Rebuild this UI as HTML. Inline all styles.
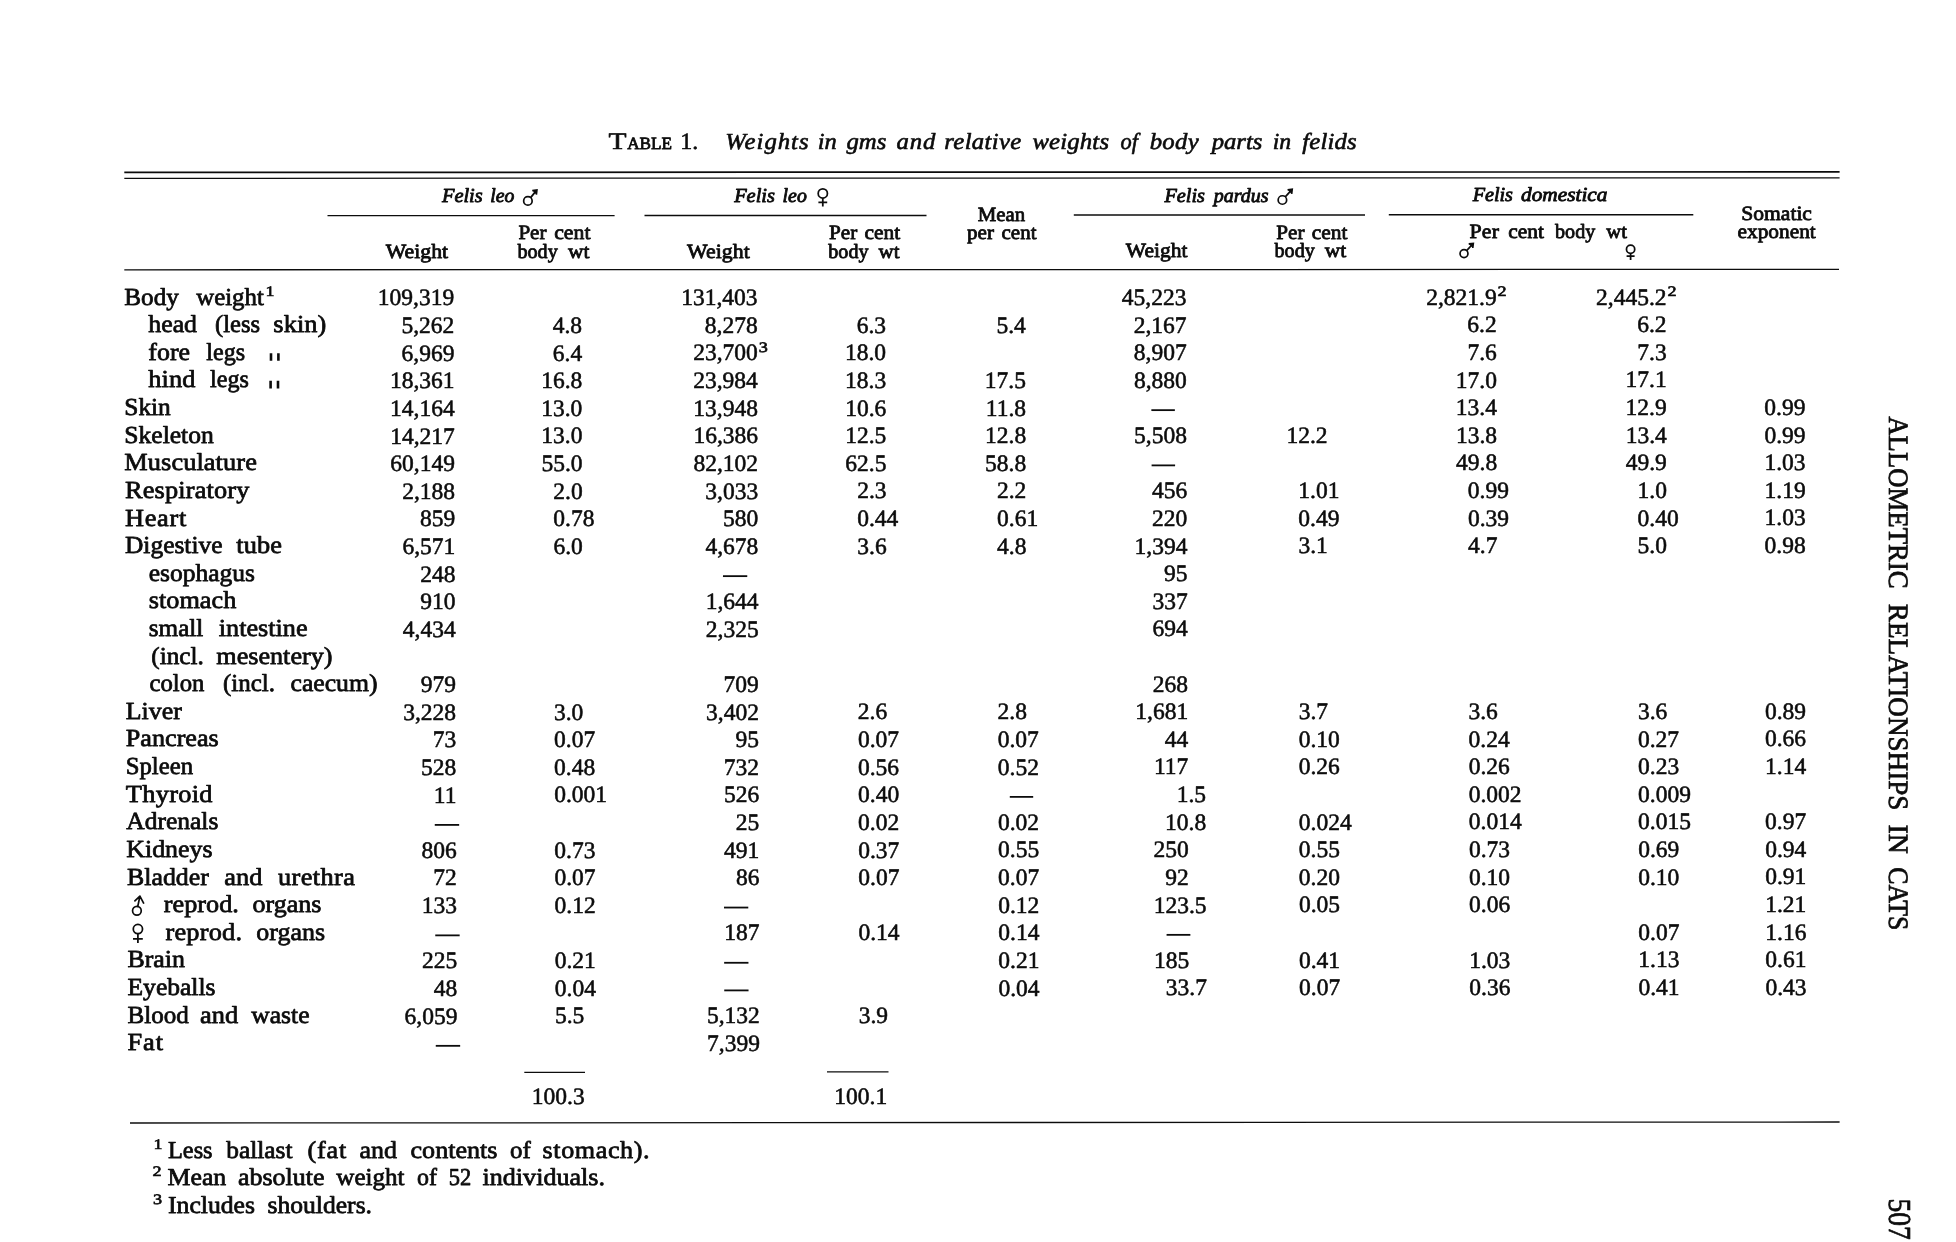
<!DOCTYPE html>
<html lang="en">
<head>
<meta charset="utf-8">
<title>Table 1. Weights in gms and relative weights of body parts in felids</title>
<style>
html, body { margin: 0; padding: 0; background: #ffffff; }
body { width: 1956px; height: 1242px; overflow: hidden; font-family: "Liberation Serif", serif; }
svg { display: block; position: absolute; left: 0; top: 0; filter: grayscale(1); }
svg text { font-family: "Liberation Serif", serif; fill: #0c0c0c; stroke: #0c0c0c; stroke-width: 0.55px; stroke-linejoin: round; white-space: pre; }
svg text.it { stroke-width: 0.85px; }
svg text.lb { stroke-width: 0.75px; }
svg text.rt { stroke-width: 0.75px; }
svg text.ti { stroke-width: 0.62px; }
svg text.hd { stroke-width: 0.8px; }
svg text.sup { stroke-width: 0.6px; }
</style>
</head>
<body>
<svg width="1956" height="1242" viewBox="0 0 1956 1242" text-rendering="geometricPrecision">
<text transform="translate(608.40,149.00) scale(1.2557,1)" font-size="23.5">T</text>
<text transform="translate(627.20,149.00) scale(0.9980,1)" font-size="17.2" class="hd">ABLE</text>
<text transform="translate(680.20,149.00) scale(1.0213,1)" font-size="23.5">1.</text>
<text transform="translate(725.20,148.80) scale(1.0750,1)" font-size="23.0" font-style="italic" class="ti" letter-spacing="0.932">Weights</text>
<text transform="translate(817.80,148.80) scale(1.0625,1)" font-size="23.0" font-style="italic" class="ti">in</text>
<text transform="translate(846.40,148.80) scale(1.0750,1)" font-size="23.0" font-style="italic" class="ti" letter-spacing="0.014">gms</text>
<text transform="translate(896.50,148.80) scale(1.0750,1)" font-size="23.0" font-style="italic" class="ti" letter-spacing="0.814">and</text>
<text transform="translate(944.30,148.80) scale(1.0750,1)" font-size="23.0" font-style="italic" class="ti" letter-spacing="0.318">relative</text>
<text transform="translate(1032.40,148.80) scale(1.0750,1)" font-size="23.0" font-style="italic" class="ti" letter-spacing="0.165">weights</text>
<text transform="translate(1120.50,148.80) scale(0.9716,1)" font-size="23.0" font-style="italic" class="ti">of</text>
<text transform="translate(1149.70,148.80) scale(1.0750,1)" font-size="23.0" font-style="italic" class="ti" letter-spacing="0.282">body</text>
<text transform="translate(1211.68,148.80) scale(1.0731,1)" font-size="23.0" font-style="italic" class="ti">parts</text>
<text transform="translate(1272.80,148.80) scale(1.0289,1)" font-size="23.0" font-style="italic" class="ti">in</text>
<text transform="translate(1302.20,148.80) scale(1.0750,1)" font-size="23.0" font-style="italic" class="ti" letter-spacing="0.169">felids</text>
<line x1="124.30" y1="172.40" x2="1839.60" y2="171.90" stroke="#0c0c0c" stroke-width="1.7"/>
<line x1="124.30" y1="178.30" x2="1839.60" y2="177.80" stroke="#0c0c0c" stroke-width="1.25"/>
<line x1="124.30" y1="269.80" x2="1839.00" y2="269.40" stroke="#0c0c0c" stroke-width="1.3"/>
<line x1="130.00" y1="1123.00" x2="1839.60" y2="1122.00" stroke="#0c0c0c" stroke-width="1.3"/>
<line x1="327.50" y1="215.60" x2="614.60" y2="215.60" stroke="#0c0c0c" stroke-width="1.45"/>
<line x1="644.50" y1="215.40" x2="926.50" y2="215.40" stroke="#0c0c0c" stroke-width="1.45"/>
<line x1="1073.80" y1="215.00" x2="1365.00" y2="215.00" stroke="#0c0c0c" stroke-width="1.45"/>
<line x1="1388.80" y1="214.70" x2="1693.30" y2="214.70" stroke="#0c0c0c" stroke-width="1.45"/>
<line x1="524.30" y1="1072.40" x2="585.00" y2="1072.40" stroke="#0c0c0c" stroke-width="1.2"/>
<line x1="827.00" y1="1071.80" x2="888.50" y2="1071.80" stroke="#0c0c0c" stroke-width="1.2"/>
<text transform="translate(441.95,202.10) scale(1.0238,1)" font-size="19.9" font-style="italic" class="it">Felis</text>
<text transform="translate(490.30,202.10) scale(0.9906,1)" font-size="19.9" font-style="italic" class="it">leo</text>
<g fill="none" stroke="#0c0c0c" stroke-width="1.7" stroke-linecap="butt" stroke-linejoin="miter"><circle cx="527.90" cy="200.90" r="4.25"/><path d="M530.61 197.62L536.30 190.60"/><path d="M532.30 190.55L536.90 190.00L536.35 194.60" fill="#0c0c0c"/></g>
<text transform="translate(734.15,201.80) scale(1.0263,1)" font-size="19.9" font-style="italic" class="it">Felis</text>
<text transform="translate(782.60,201.80) scale(0.9947,1)" font-size="19.9" font-style="italic" class="it">leo</text>
<g fill="none" stroke="#0c0c0c" stroke-width="1.75" stroke-linecap="butt"><circle cx="822.80" cy="193.40" r="4.62"/><path d="M822.80 198.03L822.80 206.60M818.40 202.30L827.20 202.30"/></g>
<text transform="translate(1164.45,201.60) scale(1.0188,1)" font-size="19.9" font-style="italic" class="it">Felis</text>
<text transform="translate(1213.70,201.60) scale(1.0041,1)" font-size="19.9" font-style="italic" class="it">pardus</text>
<g fill="none" stroke="#0c0c0c" stroke-width="1.7" stroke-linecap="butt" stroke-linejoin="miter"><circle cx="1282.40" cy="200.00" r="4.25"/><path d="M1285.27 196.87L1291.60 189.90"/><path d="M1287.60 189.85L1292.20 189.30L1291.65 193.90" fill="#0c0c0c"/></g>
<text transform="translate(1472.65,201.00) scale(1.0138,1)" font-size="19.9" font-style="italic" class="it">Felis</text>
<text transform="translate(1521.00,201.00) scale(1.0719,1)" font-size="19.9" font-style="italic" class="it">domestica</text>
<text transform="translate(385.80,258.00) scale(1.0738,1)" font-size="20.3" class="hd">Weight</text>
<text transform="translate(518.40,239.30) scale(1.0388,1)" font-size="20.3" class="hd">Per</text>
<text transform="translate(554.20,239.30) scale(1.0740,1)" font-size="20.3" class="hd">cent</text>
<text transform="translate(517.40,258.20) scale(0.9951,1)" font-size="20.3" class="hd">body</text>
<text transform="translate(568.00,258.20) scale(1.0591,1)" font-size="20.3" class="hd">wt</text>
<text transform="translate(687.00,258.00) scale(1.0750,1)" font-size="20.3" class="hd" letter-spacing="0.062">Weight</text>
<text transform="translate(829.00,239.20) scale(1.0425,1)" font-size="20.3" class="hd">Per</text>
<text transform="translate(864.60,239.20) scale(1.0562,1)" font-size="20.3" class="hd">cent</text>
<text transform="translate(828.30,258.00) scale(0.9926,1)" font-size="20.3" class="hd">body</text>
<text transform="translate(878.50,258.00) scale(1.0345,1)" font-size="20.3" class="hd">wt</text>
<text transform="translate(977.80,220.50) scale(1.0274,1)" font-size="20.3" class="hd">Mean</text>
<text transform="translate(967.00,238.80) scale(1.0411,1)" font-size="20.3" class="hd">per</text>
<text transform="translate(1001.50,238.80) scale(1.0355,1)" font-size="20.3" class="hd">cent</text>
<text transform="translate(1125.80,257.00) scale(1.0618,1)" font-size="20.3" class="hd">Weight</text>
<text transform="translate(1276.30,238.80) scale(1.0425,1)" font-size="20.3" class="hd">Per</text>
<text transform="translate(1311.80,238.80) scale(1.0562,1)" font-size="20.3" class="hd">cent</text>
<text transform="translate(1274.50,257.00) scale(0.9926,1)" font-size="20.3" class="hd">body</text>
<text transform="translate(1324.80,257.00) scale(1.0591,1)" font-size="20.3" class="hd">wt</text>
<text transform="translate(1469.50,237.50) scale(1.0750,1)" font-size="20.3" class="hd" letter-spacing="0.196">Per</text>
<text transform="translate(1508.30,237.50) scale(1.0562,1)" font-size="20.3" class="hd">cent</text>
<text transform="translate(1555.00,237.50) scale(0.9926,1)" font-size="20.3" class="hd">body</text>
<text transform="translate(1606.30,237.50) scale(1.0197,1)" font-size="20.3" class="hd">wt</text>
<g fill="none" stroke="#0c0c0c" stroke-width="1.7" stroke-linecap="butt" stroke-linejoin="miter"><circle cx="1464.00" cy="253.60" r="3.95"/><path d="M1466.66 250.68L1472.70 244.00"/><path d="M1468.70 243.95L1473.30 243.40L1472.75 248.00" fill="#0c0c0c"/></g>
<g fill="none" stroke="#0c0c0c" stroke-width="1.75" stroke-linecap="butt"><circle cx="1630.60" cy="249.30" r="4.12"/><path d="M1630.60 253.43L1630.60 260.00M1626.60 256.00L1634.60 256.00"/></g>
<text transform="translate(1741.30,220.00) scale(1.0626,1)" font-size="20.3" class="hd">Somatic</text>
<text transform="translate(1737.50,238.00) scale(1.0524,1)" font-size="20.3" class="hd">exponent</text>
<text transform="translate(124.30,304.60) scale(1.0263,1)" font-size="24.5" class="lb">Body</text>
<text transform="translate(196.30,304.60) scale(1.0120,1)" font-size="24.5" class="lb">weight</text>
<text transform="translate(148.30,332.22) scale(1.0531,1)" font-size="24.5" class="lb">head</text>
<text transform="translate(215.00,332.22) scale(1.0023,1)" font-size="24.5" class="lb">(less</text>
<text transform="translate(273.30,332.22) scale(1.0750,1)" font-size="24.5" class="lb" letter-spacing="0.076">skin)</text>
<text transform="translate(148.30,359.83) scale(1.0572,1)" font-size="24.5" class="lb">fore</text>
<text transform="translate(206.30,359.83) scale(0.9811,1)" font-size="24.5" class="lb">legs</text>
<text transform="translate(148.30,387.45) scale(1.0750,1)" font-size="24.5" class="lb" letter-spacing="0.119">hind</text>
<text transform="translate(210.00,387.45) scale(0.9836,1)" font-size="24.5" class="lb">legs</text>
<text transform="translate(124.30,415.07) scale(1.0343,1)" font-size="24.5" class="lb">Skin</text>
<text transform="translate(124.30,442.69) scale(1.0437,1)" font-size="24.5" class="lb">Skeleton</text>
<text transform="translate(124.30,470.30) scale(1.0750,1)" font-size="24.5" class="lb" letter-spacing="0.082">Musculature</text>
<text transform="translate(125.00,497.92) scale(1.0750,1)" font-size="24.5" class="lb" letter-spacing="0.134">Respiratory</text>
<text transform="translate(125.00,525.54) scale(1.0750,1)" font-size="24.5" class="lb" letter-spacing="0.658">Heart</text>
<text transform="translate(125.00,553.15) scale(1.0384,1)" font-size="24.5" class="lb">Digestive</text>
<text transform="translate(236.30,553.15) scale(1.0750,1)" font-size="24.5" class="lb" letter-spacing="0.103">tube</text>
<text transform="translate(148.80,580.77) scale(1.0407,1)" font-size="24.5" class="lb">esophagus</text>
<text transform="translate(148.80,608.39) scale(1.0717,1)" font-size="24.5" class="lb">stomach</text>
<text transform="translate(148.80,636.00) scale(1.0263,1)" font-size="24.5" class="lb">small</text>
<text transform="translate(218.80,636.00) scale(1.0688,1)" font-size="24.5" class="lb">intestine</text>
<text transform="translate(151.30,663.62) scale(1.0290,1)" font-size="24.5" class="lb">(incl.</text>
<text transform="translate(216.30,663.62) scale(1.0676,1)" font-size="24.5" class="lb">mesentery)</text>
<text transform="translate(149.50,691.24) scale(1.0101,1)" font-size="24.5" class="lb">colon</text>
<text transform="translate(223.00,691.24) scale(1.0192,1)" font-size="24.5" class="lb">(incl.</text>
<text transform="translate(290.50,691.24) scale(1.0483,1)" font-size="24.5" class="lb">caecum)</text>
<text transform="translate(125.80,718.86) scale(1.0558,1)" font-size="24.5" class="lb">Liver</text>
<text transform="translate(125.80,746.47) scale(1.0678,1)" font-size="24.5" class="lb">Pancreas</text>
<text transform="translate(125.80,774.09) scale(1.0075,1)" font-size="24.5" class="lb">Spleen</text>
<text transform="translate(125.80,801.71) scale(1.0750,1)" font-size="24.5" class="lb" letter-spacing="0.283">Thyroid</text>
<text transform="translate(126.30,829.32) scale(1.0402,1)" font-size="24.5" class="lb">Adrenals</text>
<text transform="translate(126.30,856.94) scale(1.0558,1)" font-size="24.5" class="lb">Kidneys</text>
<text transform="translate(127.00,884.56) scale(1.0549,1)" font-size="24.5" class="lb">Bladder</text>
<text transform="translate(224.30,884.56) scale(1.0750,1)" font-size="24.5" class="lb" letter-spacing="0.066">and</text>
<text transform="translate(278.00,884.56) scale(1.0750,1)" font-size="24.5" class="lb" letter-spacing="0.372">urethra</text>
<text transform="translate(163.80,912.17) scale(1.0704,1)" font-size="24.5" class="lb">reprod.</text>
<text transform="translate(252.50,912.17) scale(1.0607,1)" font-size="24.5" class="lb">organs</text>
<text transform="translate(165.50,939.79) scale(1.0750,1)" font-size="24.5" class="lb" letter-spacing="0.182">reprod.</text>
<text transform="translate(256.30,939.79) scale(1.0591,1)" font-size="24.5" class="lb">organs</text>
<text transform="translate(127.50,967.41) scale(1.0560,1)" font-size="24.5" class="lb">Brain</text>
<text transform="translate(127.50,995.03) scale(1.0434,1)" font-size="24.5" class="lb">Eyeballs</text>
<text transform="translate(127.50,1022.64) scale(1.0233,1)" font-size="24.5" class="lb">Blood</text>
<text transform="translate(200.00,1022.64) scale(1.0750,1)" font-size="24.5" class="lb" letter-spacing="0.113">and</text>
<text transform="translate(251.30,1022.64) scale(1.0430,1)" font-size="24.5" class="lb">waste</text>
<text transform="translate(127.50,1050.26) scale(1.0750,1)" font-size="24.5" class="lb" letter-spacing="0.862">Fat</text>
<text transform="translate(265.60,296.00) scale(1.25,1)" font-size="14.5" class="sup">1</text>
<path d="M271.00 353.23v7.6M278.40 353.23v7.6" stroke="#0c0c0c" stroke-width="2.6" fill="none"/>
<path d="M270.60 380.85v7.6M278.00 380.85v7.6" stroke="#0c0c0c" stroke-width="2.6" fill="none"/>
<g fill="none" stroke="#0c0c0c" stroke-width="1.7" stroke-linecap="round" stroke-linejoin="round"><circle cx="136.90" cy="910.77" r="4.35"/><path d="M137.77 906.51L139.90 896.07M134.90 900.97L139.90 896.07L143.60 903.07"/></g>
<g fill="none" stroke="#0c0c0c" stroke-width="1.75" stroke-linecap="butt"><circle cx="137.90" cy="929.09" r="4.62"/><path d="M137.90 933.72L137.90 942.89M133.00 938.79L142.80 938.79"/></g>
<text x="454.20" y="305.46" font-size="23.5" text-anchor="end">109,319</text>
<text x="757.60" y="305.25" font-size="23.5" text-anchor="end">131,403</text>
<text x="1186.40" y="304.95" font-size="23.5" text-anchor="end">45,223</text>
<text x="1479.00" y="304.74" font-size="23.5" text-anchor="end">2,821</text>
<text x="1479.00" y="304.74" font-size="23.5">.9</text>
<text transform="translate(1497.62,296.14) scale(1.25,1)" font-size="14.5" class="sup">2</text>
<text x="1648.90" y="304.63" font-size="23.5" text-anchor="end">2,445</text>
<text x="1648.90" y="304.63" font-size="23.5">.2</text>
<text transform="translate(1667.53,296.03) scale(1.25,1)" font-size="14.5" class="sup">2</text>
<text x="454.32" y="333.08" font-size="23.5" text-anchor="end">5,262</text>
<text x="564.49" y="333.00" font-size="23.5" text-anchor="end">4</text>
<text x="564.49" y="333.00" font-size="23.5">.8</text>
<text x="757.69" y="332.87" font-size="23.5" text-anchor="end">8,278</text>
<text x="868.38" y="332.79" font-size="23.5" text-anchor="end">6</text>
<text x="868.38" y="332.79" font-size="23.5">.3</text>
<text x="1008.18" y="332.69" font-size="23.5" text-anchor="end">5</text>
<text x="1008.18" y="332.69" font-size="23.5">.4</text>
<text x="1186.52" y="332.57" font-size="23.5" text-anchor="end">2,167</text>
<text x="1479.08" y="332.36" font-size="23.5" text-anchor="end">6</text>
<text x="1479.08" y="332.36" font-size="23.5">.2</text>
<text x="1648.95" y="332.24" font-size="23.5" text-anchor="end">6</text>
<text x="1648.95" y="332.24" font-size="23.5">.2</text>
<text x="454.45" y="360.70" font-size="23.5" text-anchor="end">6,969</text>
<text x="564.57" y="360.62" font-size="23.5" text-anchor="end">6</text>
<text x="564.57" y="360.62" font-size="23.5">.4</text>
<text x="757.77" y="360.48" font-size="23.5" text-anchor="end">23,700</text>
<text transform="translate(758.77,351.88) scale(1.25,1)" font-size="14.5" class="sup">3</text>
<text x="868.47" y="360.41" font-size="23.5" text-anchor="end">18</text>
<text x="868.47" y="360.41" font-size="23.5">.0</text>
<text x="1186.63" y="360.18" font-size="23.5" text-anchor="end">8,907</text>
<text x="1479.17" y="359.98" font-size="23.5" text-anchor="end">7</text>
<text x="1479.17" y="359.98" font-size="23.5">.6</text>
<text x="1649.00" y="359.86" font-size="23.5" text-anchor="end">7</text>
<text x="1649.00" y="359.86" font-size="23.5">.3</text>
<text x="454.57" y="388.31" font-size="23.5" text-anchor="end">18,361</text>
<text x="564.66" y="388.24" font-size="23.5" text-anchor="end">16</text>
<text x="564.66" y="388.24" font-size="23.5">.8</text>
<text x="757.86" y="388.10" font-size="23.5" text-anchor="end">23,984</text>
<text x="868.55" y="388.02" font-size="23.5" text-anchor="end">18</text>
<text x="868.55" y="388.02" font-size="23.5">.3</text>
<text x="1008.35" y="387.93" font-size="23.5" text-anchor="end">17</text>
<text x="1008.35" y="387.93" font-size="23.5">.5</text>
<text x="1186.75" y="387.80" font-size="23.5" text-anchor="end">8,880</text>
<text x="1479.25" y="387.60" font-size="23.5" text-anchor="end">17</text>
<text x="1479.25" y="387.60" font-size="23.5">.0</text>
<text x="1649.05" y="387.48" font-size="23.5" text-anchor="end">17</text>
<text x="1649.05" y="387.48" font-size="23.5">.1</text>
<text x="454.70" y="415.93" font-size="23.5" text-anchor="end">14,164</text>
<text x="564.74" y="415.85" font-size="23.5" text-anchor="end">13</text>
<text x="564.74" y="415.85" font-size="23.5">.0</text>
<text x="757.94" y="415.72" font-size="23.5" text-anchor="end">13,948</text>
<text x="868.63" y="415.64" font-size="23.5" text-anchor="end">10</text>
<text x="868.63" y="415.64" font-size="23.5">.6</text>
<text x="1008.43" y="415.54" font-size="23.5" text-anchor="end">11</text>
<text x="1008.43" y="415.54" font-size="23.5">.8</text>
<line x1="1151.36" y1="410.14" x2="1174.86" y2="410.14" stroke="#0c0c0c" stroke-width="1.8"/>
<text x="1479.33" y="415.21" font-size="23.5" text-anchor="end">13</text>
<text x="1479.33" y="415.21" font-size="23.5">.4</text>
<text x="1649.10" y="415.09" font-size="23.5" text-anchor="end">12</text>
<text x="1649.10" y="415.09" font-size="23.5">.9</text>
<text x="1776.10" y="415.00" font-size="23.5" text-anchor="end">0</text>
<text x="1776.10" y="415.00" font-size="23.5">.99</text>
<text x="454.82" y="443.55" font-size="23.5" text-anchor="end">14,217</text>
<text x="564.83" y="443.47" font-size="23.5" text-anchor="end">13</text>
<text x="564.83" y="443.47" font-size="23.5">.0</text>
<text x="758.03" y="443.33" font-size="23.5" text-anchor="end">16,386</text>
<text x="868.71" y="443.26" font-size="23.5" text-anchor="end">12</text>
<text x="868.71" y="443.26" font-size="23.5">.5</text>
<text x="1008.51" y="443.16" font-size="23.5" text-anchor="end">12</text>
<text x="1008.51" y="443.16" font-size="23.5">.8</text>
<text x="1186.98" y="443.03" font-size="23.5" text-anchor="end">5,508</text>
<text x="1309.99" y="442.95" font-size="23.5" text-anchor="end">12</text>
<text x="1309.99" y="442.95" font-size="23.5">.2</text>
<text x="1479.41" y="442.83" font-size="23.5" text-anchor="end">13</text>
<text x="1479.41" y="442.83" font-size="23.5">.8</text>
<text x="1649.15" y="442.71" font-size="23.5" text-anchor="end">13</text>
<text x="1649.15" y="442.71" font-size="23.5">.4</text>
<text x="1776.15" y="442.62" font-size="23.5" text-anchor="end">0</text>
<text x="1776.15" y="442.62" font-size="23.5">.99</text>
<text x="454.95" y="471.16" font-size="23.5" text-anchor="end">60,149</text>
<text x="564.91" y="471.09" font-size="23.5" text-anchor="end">55</text>
<text x="564.91" y="471.09" font-size="23.5">.0</text>
<text x="758.11" y="470.95" font-size="23.5" text-anchor="end">82,102</text>
<text x="868.80" y="470.87" font-size="23.5" text-anchor="end">62</text>
<text x="868.80" y="470.87" font-size="23.5">.5</text>
<text x="1008.60" y="470.78" font-size="23.5" text-anchor="end">58</text>
<text x="1008.60" y="470.78" font-size="23.5">.8</text>
<line x1="1151.60" y1="465.38" x2="1175.10" y2="465.38" stroke="#0c0c0c" stroke-width="1.8"/>
<text x="1479.50" y="470.45" font-size="23.5" text-anchor="end">49</text>
<text x="1479.50" y="470.45" font-size="23.5">.8</text>
<text x="1649.20" y="470.33" font-size="23.5" text-anchor="end">49</text>
<text x="1649.20" y="470.33" font-size="23.5">.9</text>
<text x="1776.20" y="470.24" font-size="23.5" text-anchor="end">1</text>
<text x="1776.20" y="470.24" font-size="23.5">.03</text>
<text x="455.07" y="498.78" font-size="23.5" text-anchor="end">2,188</text>
<text x="565.00" y="498.70" font-size="23.5" text-anchor="end">2</text>
<text x="565.00" y="498.70" font-size="23.5">.0</text>
<text x="758.20" y="498.57" font-size="23.5" text-anchor="end">3,033</text>
<text x="868.88" y="498.49" font-size="23.5" text-anchor="end">2</text>
<text x="868.88" y="498.49" font-size="23.5">.3</text>
<text x="1008.68" y="498.39" font-size="23.5" text-anchor="end">2</text>
<text x="1008.68" y="498.39" font-size="23.5">.2</text>
<text x="1187.21" y="498.27" font-size="23.5" text-anchor="end">456</text>
<text x="1310.07" y="498.18" font-size="23.5" text-anchor="end">1</text>
<text x="1310.07" y="498.18" font-size="23.5">.01</text>
<text x="1479.58" y="498.06" font-size="23.5" text-anchor="end">0</text>
<text x="1479.58" y="498.06" font-size="23.5">.99</text>
<text x="1649.25" y="497.94" font-size="23.5" text-anchor="end">1</text>
<text x="1649.25" y="497.94" font-size="23.5">.0</text>
<text x="1776.25" y="497.86" font-size="23.5" text-anchor="end">1</text>
<text x="1776.25" y="497.86" font-size="23.5">.19</text>
<text x="455.19" y="526.40" font-size="23.5" text-anchor="end">859</text>
<text x="565.08" y="526.32" font-size="23.5" text-anchor="end">0</text>
<text x="565.08" y="526.32" font-size="23.5">.78</text>
<text x="758.28" y="526.19" font-size="23.5" text-anchor="end">580</text>
<text x="868.96" y="526.11" font-size="23.5" text-anchor="end">0</text>
<text x="868.96" y="526.11" font-size="23.5">.44</text>
<text x="1008.76" y="526.01" font-size="23.5" text-anchor="end">0</text>
<text x="1008.76" y="526.01" font-size="23.5">.61</text>
<text x="1187.33" y="525.88" font-size="23.5" text-anchor="end">220</text>
<text x="1310.11" y="525.80" font-size="23.5" text-anchor="end">0</text>
<text x="1310.11" y="525.80" font-size="23.5">.49</text>
<text x="1479.66" y="525.68" font-size="23.5" text-anchor="end">0</text>
<text x="1479.66" y="525.68" font-size="23.5">.39</text>
<text x="1649.30" y="525.56" font-size="23.5" text-anchor="end">0</text>
<text x="1649.30" y="525.56" font-size="23.5">.40</text>
<text x="1776.30" y="525.47" font-size="23.5" text-anchor="end">1</text>
<text x="1776.30" y="525.47" font-size="23.5">.03</text>
<text x="455.32" y="554.01" font-size="23.5" text-anchor="end">6,571</text>
<text x="565.17" y="553.94" font-size="23.5" text-anchor="end">6</text>
<text x="565.17" y="553.94" font-size="23.5">.0</text>
<text x="758.37" y="553.80" font-size="23.5" text-anchor="end">4,678</text>
<text x="869.05" y="553.72" font-size="23.5" text-anchor="end">3</text>
<text x="869.05" y="553.72" font-size="23.5">.6</text>
<text x="1008.85" y="553.63" font-size="23.5" text-anchor="end">4</text>
<text x="1008.85" y="553.63" font-size="23.5">.8</text>
<text x="1187.44" y="553.50" font-size="23.5" text-anchor="end">1,394</text>
<text x="1310.15" y="553.42" font-size="23.5" text-anchor="end">3</text>
<text x="1310.15" y="553.42" font-size="23.5">.1</text>
<text x="1479.75" y="553.30" font-size="23.5" text-anchor="end">4</text>
<text x="1479.75" y="553.30" font-size="23.5">.7</text>
<text x="1649.35" y="553.18" font-size="23.5" text-anchor="end">5</text>
<text x="1649.35" y="553.18" font-size="23.5">.0</text>
<text x="1776.35" y="553.09" font-size="23.5" text-anchor="end">0</text>
<text x="1776.35" y="553.09" font-size="23.5">.98</text>
<text x="455.44" y="581.63" font-size="23.5" text-anchor="end">248</text>
<line x1="722.96" y1="576.14" x2="747.26" y2="576.14" stroke="#0c0c0c" stroke-width="1.8"/>
<text x="1187.56" y="581.12" font-size="23.5" text-anchor="end">95</text>
<text x="455.57" y="609.25" font-size="23.5" text-anchor="end">910</text>
<text x="758.54" y="609.04" font-size="23.5" text-anchor="end">1,644</text>
<text x="1187.68" y="608.74" font-size="23.5" text-anchor="end">337</text>
<text x="455.69" y="636.87" font-size="23.5" text-anchor="end">4,434</text>
<text x="758.63" y="636.65" font-size="23.5" text-anchor="end">2,325</text>
<text x="1187.79" y="636.35" font-size="23.5" text-anchor="end">694</text>
<text x="455.94" y="692.10" font-size="23.5" text-anchor="end">979</text>
<text x="758.80" y="691.89" font-size="23.5" text-anchor="end">709</text>
<text x="1188.02" y="691.59" font-size="23.5" text-anchor="end">268</text>
<text x="456.06" y="719.72" font-size="23.5" text-anchor="end">3,228</text>
<text x="565.68" y="719.64" font-size="23.5" text-anchor="end">3</text>
<text x="565.68" y="719.64" font-size="23.5">.0</text>
<text x="758.88" y="719.50" font-size="23.5" text-anchor="end">3,402</text>
<text x="869.54" y="719.43" font-size="23.5" text-anchor="end">2</text>
<text x="869.54" y="719.43" font-size="23.5">.6</text>
<text x="1009.34" y="719.33" font-size="23.5" text-anchor="end">2</text>
<text x="1009.34" y="719.33" font-size="23.5">.8</text>
<text x="1188.14" y="719.20" font-size="23.5" text-anchor="end">1,681</text>
<text x="1310.38" y="719.12" font-size="23.5" text-anchor="end">3</text>
<text x="1310.38" y="719.12" font-size="23.5">.7</text>
<text x="1480.24" y="719.00" font-size="23.5" text-anchor="end">3</text>
<text x="1480.24" y="719.00" font-size="23.5">.6</text>
<text x="1649.65" y="718.88" font-size="23.5" text-anchor="end">3</text>
<text x="1649.65" y="718.88" font-size="23.5">.6</text>
<text x="1776.65" y="718.79" font-size="23.5" text-anchor="end">0</text>
<text x="1776.65" y="718.79" font-size="23.5">.89</text>
<text x="456.19" y="747.33" font-size="23.5" text-anchor="end">73</text>
<text x="565.77" y="747.26" font-size="23.5" text-anchor="end">0</text>
<text x="565.77" y="747.26" font-size="23.5">.07</text>
<text x="758.97" y="747.12" font-size="23.5" text-anchor="end">95</text>
<text x="869.63" y="747.04" font-size="23.5" text-anchor="end">0</text>
<text x="869.63" y="747.04" font-size="23.5">.07</text>
<text x="1009.43" y="746.95" font-size="23.5" text-anchor="end">0</text>
<text x="1009.43" y="746.95" font-size="23.5">.07</text>
<text x="1188.26" y="746.82" font-size="23.5" text-anchor="end">44</text>
<text x="1310.42" y="746.73" font-size="23.5" text-anchor="end">0</text>
<text x="1310.42" y="746.73" font-size="23.5">.10</text>
<text x="1480.33" y="746.62" font-size="23.5" text-anchor="end">0</text>
<text x="1480.33" y="746.62" font-size="23.5">.24</text>
<text x="1649.70" y="746.50" font-size="23.5" text-anchor="end">0</text>
<text x="1649.70" y="746.50" font-size="23.5">.27</text>
<text x="1776.70" y="746.41" font-size="23.5" text-anchor="end">0</text>
<text x="1776.70" y="746.41" font-size="23.5">.66</text>
<text x="456.31" y="774.95" font-size="23.5" text-anchor="end">528</text>
<text x="565.86" y="774.87" font-size="23.5" text-anchor="end">0</text>
<text x="565.86" y="774.87" font-size="23.5">.48</text>
<text x="759.06" y="774.74" font-size="23.5" text-anchor="end">732</text>
<text x="869.71" y="774.66" font-size="23.5" text-anchor="end">0</text>
<text x="869.71" y="774.66" font-size="23.5">.56</text>
<text x="1009.51" y="774.56" font-size="23.5" text-anchor="end">0</text>
<text x="1009.51" y="774.56" font-size="23.5">.52</text>
<text x="1188.37" y="774.44" font-size="23.5" text-anchor="end">117</text>
<text x="1310.46" y="774.35" font-size="23.5" text-anchor="end">0</text>
<text x="1310.46" y="774.35" font-size="23.5">.26</text>
<text x="1480.41" y="774.23" font-size="23.5" text-anchor="end">0</text>
<text x="1480.41" y="774.23" font-size="23.5">.26</text>
<text x="1649.75" y="774.11" font-size="23.5" text-anchor="end">0</text>
<text x="1649.75" y="774.11" font-size="23.5">.23</text>
<text x="1776.75" y="774.03" font-size="23.5" text-anchor="end">1</text>
<text x="1776.75" y="774.03" font-size="23.5">.14</text>
<text x="456.44" y="802.57" font-size="23.5" text-anchor="end">11</text>
<text x="565.94" y="802.49" font-size="23.5" text-anchor="end">0</text>
<text x="565.94" y="802.49" font-size="23.5">.001</text>
<text x="759.14" y="802.35" font-size="23.5" text-anchor="end">526</text>
<text x="869.79" y="802.28" font-size="23.5" text-anchor="end">0</text>
<text x="869.79" y="802.28" font-size="23.5">.40</text>
<line x1="1009.79" y1="796.88" x2="1033.19" y2="796.88" stroke="#0c0c0c" stroke-width="1.8"/>
<text x="1188.49" y="802.05" font-size="23.5" text-anchor="end">1</text>
<text x="1188.49" y="802.05" font-size="23.5">.5</text>
<text x="1480.49" y="801.85" font-size="23.5" text-anchor="end">0</text>
<text x="1480.49" y="801.85" font-size="23.5">.002</text>
<text x="1649.79" y="801.73" font-size="23.5" text-anchor="end">0</text>
<text x="1649.79" y="801.73" font-size="23.5">.009</text>
<line x1="434.76" y1="824.90" x2="459.16" y2="824.90" stroke="#0c0c0c" stroke-width="1.8"/>
<text x="759.23" y="829.97" font-size="23.5" text-anchor="end">25</text>
<text x="869.87" y="829.89" font-size="23.5" text-anchor="end">0</text>
<text x="869.87" y="829.89" font-size="23.5">.02</text>
<text x="1009.67" y="829.80" font-size="23.5" text-anchor="end">0</text>
<text x="1009.67" y="829.80" font-size="23.5">.02</text>
<text x="1188.60" y="829.67" font-size="23.5" text-anchor="end">10</text>
<text x="1188.60" y="829.67" font-size="23.5">.8</text>
<text x="1310.53" y="829.59" font-size="23.5" text-anchor="end">0</text>
<text x="1310.53" y="829.59" font-size="23.5">.024</text>
<text x="1480.57" y="829.47" font-size="23.5" text-anchor="end">0</text>
<text x="1480.57" y="829.47" font-size="23.5">.014</text>
<text x="1649.84" y="829.35" font-size="23.5" text-anchor="end">0</text>
<text x="1649.84" y="829.35" font-size="23.5">.015</text>
<text x="1776.84" y="829.26" font-size="23.5" text-anchor="end">0</text>
<text x="1776.84" y="829.26" font-size="23.5">.97</text>
<text x="456.69" y="857.80" font-size="23.5" text-anchor="end">806</text>
<text x="566.11" y="857.72" font-size="23.5" text-anchor="end">0</text>
<text x="566.11" y="857.72" font-size="23.5">.73</text>
<text x="759.31" y="857.59" font-size="23.5" text-anchor="end">491</text>
<text x="869.96" y="857.51" font-size="23.5" text-anchor="end">0</text>
<text x="869.96" y="857.51" font-size="23.5">.37</text>
<text x="1009.76" y="857.41" font-size="23.5" text-anchor="end">0</text>
<text x="1009.76" y="857.41" font-size="23.5">.55</text>
<text x="1188.72" y="857.29" font-size="23.5" text-anchor="end">250</text>
<text x="1310.57" y="857.20" font-size="23.5" text-anchor="end">0</text>
<text x="1310.57" y="857.20" font-size="23.5">.55</text>
<text x="1480.66" y="857.08" font-size="23.5" text-anchor="end">0</text>
<text x="1480.66" y="857.08" font-size="23.5">.73</text>
<text x="1649.89" y="856.97" font-size="23.5" text-anchor="end">0</text>
<text x="1649.89" y="856.97" font-size="23.5">.69</text>
<text x="1776.89" y="856.88" font-size="23.5" text-anchor="end">0</text>
<text x="1776.89" y="856.88" font-size="23.5">.94</text>
<text x="456.81" y="885.42" font-size="23.5" text-anchor="end">72</text>
<text x="566.20" y="885.34" font-size="23.5" text-anchor="end">0</text>
<text x="566.20" y="885.34" font-size="23.5">.07</text>
<text x="759.40" y="885.21" font-size="23.5" text-anchor="end">86</text>
<text x="870.04" y="885.13" font-size="23.5" text-anchor="end">0</text>
<text x="870.04" y="885.13" font-size="23.5">.07</text>
<text x="1009.84" y="885.03" font-size="23.5" text-anchor="end">0</text>
<text x="1009.84" y="885.03" font-size="23.5">.07</text>
<text x="1188.84" y="884.90" font-size="23.5" text-anchor="end">92</text>
<text x="1310.61" y="884.82" font-size="23.5" text-anchor="end">0</text>
<text x="1310.61" y="884.82" font-size="23.5">.20</text>
<text x="1480.74" y="884.70" font-size="23.5" text-anchor="end">0</text>
<text x="1480.74" y="884.70" font-size="23.5">.10</text>
<text x="1649.94" y="884.58" font-size="23.5" text-anchor="end">0</text>
<text x="1649.94" y="884.58" font-size="23.5">.10</text>
<text x="1776.94" y="884.49" font-size="23.5" text-anchor="end">0</text>
<text x="1776.94" y="884.49" font-size="23.5">.91</text>
<text x="456.93" y="913.03" font-size="23.5" text-anchor="end">133</text>
<text x="566.28" y="912.96" font-size="23.5" text-anchor="end">0</text>
<text x="566.28" y="912.96" font-size="23.5">.12</text>
<line x1="723.98" y1="907.55" x2="748.28" y2="907.55" stroke="#0c0c0c" stroke-width="1.8"/>
<text x="1009.92" y="912.65" font-size="23.5" text-anchor="end">0</text>
<text x="1009.92" y="912.65" font-size="23.5">.12</text>
<text x="1188.95" y="912.52" font-size="23.5" text-anchor="end">123</text>
<text x="1188.95" y="912.52" font-size="23.5">.5</text>
<text x="1310.65" y="912.44" font-size="23.5" text-anchor="end">0</text>
<text x="1310.65" y="912.44" font-size="23.5">.05</text>
<text x="1480.82" y="912.32" font-size="23.5" text-anchor="end">0</text>
<text x="1480.82" y="912.32" font-size="23.5">.06</text>
<text x="1776.99" y="912.11" font-size="23.5" text-anchor="end">1</text>
<text x="1776.99" y="912.11" font-size="23.5">.21</text>
<line x1="435.26" y1="935.37" x2="459.66" y2="935.37" stroke="#0c0c0c" stroke-width="1.8"/>
<text x="759.57" y="940.44" font-size="23.5" text-anchor="end">187</text>
<text x="870.21" y="940.36" font-size="23.5" text-anchor="end">0</text>
<text x="870.21" y="940.36" font-size="23.5">.14</text>
<text x="1010.01" y="940.26" font-size="23.5" text-anchor="end">0</text>
<text x="1010.01" y="940.26" font-size="23.5">.14</text>
<line x1="1166.57" y1="934.85" x2="1190.37" y2="934.85" stroke="#0c0c0c" stroke-width="1.8"/>
<text x="1650.04" y="939.82" font-size="23.5" text-anchor="end">0</text>
<text x="1650.04" y="939.82" font-size="23.5">.07</text>
<text x="1777.04" y="939.73" font-size="23.5" text-anchor="end">1</text>
<text x="1777.04" y="939.73" font-size="23.5">.16</text>
<text x="457.18" y="968.27" font-size="23.5" text-anchor="end">225</text>
<text x="566.45" y="968.19" font-size="23.5" text-anchor="end">0</text>
<text x="566.45" y="968.19" font-size="23.5">.21</text>
<line x1="724.15" y1="962.78" x2="748.45" y2="962.78" stroke="#0c0c0c" stroke-width="1.8"/>
<text x="1010.09" y="967.88" font-size="23.5" text-anchor="end">0</text>
<text x="1010.09" y="967.88" font-size="23.5">.21</text>
<text x="1189.18" y="967.76" font-size="23.5" text-anchor="end">185</text>
<text x="1310.73" y="967.67" font-size="23.5" text-anchor="end">0</text>
<text x="1310.73" y="967.67" font-size="23.5">.41</text>
<text x="1480.99" y="967.55" font-size="23.5" text-anchor="end">1</text>
<text x="1480.99" y="967.55" font-size="23.5">.03</text>
<text x="1650.09" y="967.43" font-size="23.5" text-anchor="end">1</text>
<text x="1650.09" y="967.43" font-size="23.5">.13</text>
<text x="1777.09" y="967.34" font-size="23.5" text-anchor="end">0</text>
<text x="1777.09" y="967.34" font-size="23.5">.61</text>
<text x="457.31" y="995.88" font-size="23.5" text-anchor="end">48</text>
<text x="566.54" y="995.81" font-size="23.5" text-anchor="end">0</text>
<text x="566.54" y="995.81" font-size="23.5">.04</text>
<line x1="724.24" y1="990.40" x2="748.54" y2="990.40" stroke="#0c0c0c" stroke-width="1.8"/>
<text x="1010.17" y="995.50" font-size="23.5" text-anchor="end">0</text>
<text x="1010.17" y="995.50" font-size="23.5">.04</text>
<text x="1189.30" y="995.37" font-size="23.5" text-anchor="end">33</text>
<text x="1189.30" y="995.37" font-size="23.5">.7</text>
<text x="1310.77" y="995.29" font-size="23.5" text-anchor="end">0</text>
<text x="1310.77" y="995.29" font-size="23.5">.07</text>
<text x="1481.07" y="995.17" font-size="23.5" text-anchor="end">0</text>
<text x="1481.07" y="995.17" font-size="23.5">.36</text>
<text x="1650.14" y="995.05" font-size="23.5" text-anchor="end">0</text>
<text x="1650.14" y="995.05" font-size="23.5">.41</text>
<text x="1777.14" y="994.96" font-size="23.5" text-anchor="end">0</text>
<text x="1777.14" y="994.96" font-size="23.5">.43</text>
<text x="457.43" y="1023.50" font-size="23.5" text-anchor="end">6,059</text>
<text x="566.63" y="1023.43" font-size="23.5" text-anchor="end">5</text>
<text x="566.63" y="1023.43" font-size="23.5">.5</text>
<text x="759.83" y="1023.29" font-size="23.5" text-anchor="end">5,132</text>
<text x="870.45" y="1023.21" font-size="23.5" text-anchor="end">3</text>
<text x="870.45" y="1023.21" font-size="23.5">.9</text>
<line x1="435.76" y1="1045.83" x2="460.16" y2="1045.83" stroke="#0c0c0c" stroke-width="1.8"/>
<text x="759.91" y="1050.91" font-size="23.5" text-anchor="end">7,399</text>
<text x="567.00" y="1104.38" font-size="23.5" text-anchor="end">100</text>
<text x="567.00" y="1104.38" font-size="23.5">.3</text>
<text x="869.50" y="1103.67" font-size="23.5" text-anchor="end">100</text>
<text x="869.50" y="1103.67" font-size="23.5">.1</text>
<text transform="translate(153.40,1148.90) scale(1.25,1)" font-size="14.5" class="sup">1</text>
<text x="168.00" y="1157.50" font-size="24.3" class="lb">Less</text>
<text transform="translate(226.30,1157.50) scale(1.0438,1)" font-size="24.3" class="lb">ballast</text>
<text transform="translate(307.50,1157.50) scale(1.0750,1)" font-size="24.3" class="lb" letter-spacing="0.792">(fat</text>
<text transform="translate(359.50,1157.50) scale(1.0680,1)" font-size="24.3" class="lb">and</text>
<text transform="translate(410.50,1157.50) scale(1.0743,1)" font-size="24.3" class="lb">contents</text>
<text transform="translate(510.00,1157.50) scale(1.0251,1)" font-size="24.3" class="lb">of</text>
<text transform="translate(542.50,1157.50) scale(1.0750,1)" font-size="24.3" class="lb" letter-spacing="0.562">stomach).</text>
<text transform="translate(152.60,1176.40) scale(1.25,1)" font-size="14.5" class="sup">2</text>
<text transform="translate(167.50,1185.00) scale(1.0625,1)" font-size="24.3" class="lb">Mean</text>
<text transform="translate(238.00,1185.00) scale(1.0682,1)" font-size="24.3" class="lb">absolute</text>
<text transform="translate(336.30,1185.00) scale(1.0309,1)" font-size="24.3" class="lb">weight</text>
<text transform="translate(417.00,1185.00) scale(0.9857,1)" font-size="24.3" class="lb">of</text>
<text transform="translate(448.80,1185.00) scale(0.9259,1)" font-size="24.3" class="lb">52</text>
<text transform="translate(482.50,1185.00) scale(1.0737,1)" font-size="24.3" class="lb">individuals.</text>
<text transform="translate(153.00,1204.40) scale(1.25,1)" font-size="14.5" class="sup">3</text>
<text transform="translate(168.00,1213.00) scale(1.0569,1)" font-size="24.3" class="lb">Includes</text>
<text transform="translate(267.50,1213.00) scale(1.0534,1)" font-size="24.3" class="lb">shoulders.</text>
<text transform="translate(1889.20,416.20) rotate(90) scale(0.9559,1)" font-size="28.0" class="rt">ALLOMETRIC</text>
<text transform="translate(1889.20,603.80) rotate(90) scale(0.9697,1)" font-size="28.0" class="rt">RELATIONSHIPS</text>
<text transform="translate(1889.20,824.40) rotate(90) scale(0.9919,1)" font-size="28.0" class="rt">IN</text>
<text transform="translate(1889.20,867.20) rotate(90) scale(0.9217,1)" font-size="28.0" class="rt">CATS</text>
<text transform="translate(1888.6,1198.4) rotate(90) scale(0.865,1)" font-size="32" class="rt">507</text>
</svg>
</body>
</html>
